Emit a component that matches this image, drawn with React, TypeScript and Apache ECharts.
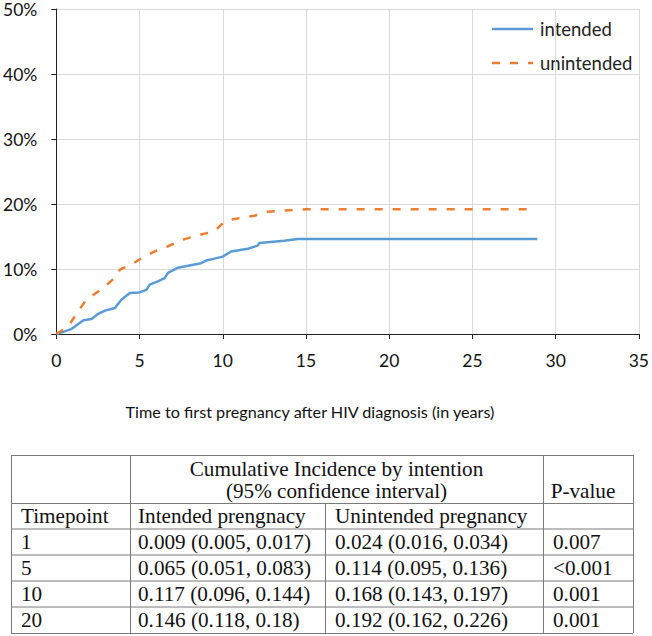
import React, { useEffect, useRef } from "react";
import * as echarts from "echarts";

// Chart data (time in years, cumulative incidence in %)
const intendedTime = [0, 0.5, 0.93, 1.3, 1.63, 2.12, 2.52, 2.92, 3.52, 3.92, 4.42, 5.0, 5.41, 5.61, 6.1, 6.51, 6.71, 7.31, 7.91, 8.7, 9.0, 9.5, 10.0, 10.5, 11.5, 12.1, 12.2, 13.7, 14.5, 28.9];
const intendedValue = [0, 0.4, 0.8, 1.5, 2.1, 2.3, 3.1, 3.6, 4.0, 5.3, 6.3, 6.4, 6.8, 7.6, 8.1, 8.6, 9.4, 10.2, 10.5, 10.9, 11.3, 11.6, 11.9, 12.7, 13.1, 13.6, 14.0, 14.35, 14.6, 14.6];
const unintendedTime = [0, 0.73, 1.23, 1.72, 2.22, 2.92, 3.62, 3.82, 4.52, 5.21, 5.91, 6.71, 7.7, 8.7, 9.5, 10.1, 10.7, 11.9, 12.7, 14.3, 15.0, 28.6];
const unintendedValue = [0, 1.2, 3.2, 5.0, 6.0, 7.3, 8.9, 9.9, 10.7, 11.8, 12.7, 13.5, 14.6, 15.3, 15.8, 17.3, 17.7, 18.2, 18.8, 19.1, 19.2, 19.2];

const seriesNames = ["intended", "unintended"];
const seriesColors = ["#5b9bd5", "#ed7d31"];
const xAxisTitle = "Time to first pregnancy after HIV diagnosis (in years)";

// Table data
const headerLine1 = "Cumulative Incidence by intention";
const headerLine2 = "(95% confidence interval)";
const pHeader = "P-value";
const subHeaders = ["Timepoint", "Intended prengnacy", "Unintended pregnancy", ""];
const timepoints = ["1", "5", "10", "20"];
const intendedCI = ["0.009 (0.005, 0.017)", "0.065 (0.051, 0.083)", "0.117 (0.096, 0.144)", "0.146 (0.118, 0.18)"];
const unintendedCI = ["0.024 (0.016, 0.034)", "0.114 (0.095, 0.136)", "0.168 (0.143, 0.197)", "0.192 (0.162, 0.226)"];
const pValues = ["0.007", "<0.001", "0.001", "0.001"];

// Layout constants
const COLX = [11, 130, 325, 543, 633];
const ROWY = [455, 503, 528.5, 554.5, 580.5, 606.5, 633];
const PAD = [10, 8, 10, 10];
const SANS = "Lato, 'Open Sans', sans-serif";
const SERIF = "'Liberation Serif', 'DejaVu Serif', serif";
const DASH = [8, 10];
const TABLE_FONT = 21.2;

function buildTable(): any[] {
  const els: any[] = [];
  const stroke = "#7a7a7a";
  const hline = (y: number, x1: number, x2: number) =>
    els.push({ type: "line", silent: true, shape: { x1, y1: y, x2, y2: y }, style: { stroke, lineWidth: 1 } });
  const vline = (x: number, y1: number, y2: number) =>
    els.push({ type: "line", silent: true, shape: { x1: x, y1, x2: x, y2 }, style: { stroke, lineWidth: 1 } });
  const L = COLX[0], R = COLX[4], T = ROWY[0], B = ROWY[ROWY.length - 1];
  ROWY.forEach((y) => hline(y + 0.5, L, R));
  vline(L + 0.5, T, B);
  vline(R + 0.5, T, B);
  vline(COLX[1] + 0.5, T, B);
  vline(COLX[2] + 0.5, ROWY[1], B);
  vline(COLX[3] + 0.5, T, B);
  const text = (t: string, x: number, y: number, align = "left", lh = TABLE_FONT) =>
    els.push({
      type: "text",
      silent: true,
      style: {
        text: t,
        x,
        y,
        fill: "#111",
        fontSize: TABLE_FONT,
        lineHeight: lh,
        fontFamily: SERIF,
        align,
        verticalAlign: "middle",
      },
    });
  const mid = (COLX[1] + COLX[3]) / 2;
  text(headerLine1, mid, 468.5, "center", 20);
  text(headerLine2, mid, 490.5, "center", 20);
  text(pHeader, 583, 490.5, "center");
  subHeaders.forEach((h, c) => {
    if (h) text(h, COLX[c] + PAD[c], (ROWY[1] + ROWY[2]) / 2);
  });
  const cols = [timepoints, intendedCI, unintendedCI, pValues];
  for (let r = 0; r < timepoints.length; r++) {
    const yc = (ROWY[r + 2] + ROWY[r + 3]) / 2;
    cols.forEach((col, c) => text(col[r], COLX[c] + PAD[c], yc));
  }
  return els;
}

function buildLegend(): any[] {
  const els: any[] = [];
  const ys = [29, 63];
  seriesNames.forEach((name, i) => {
    els.push({
      type: "line",
      silent: true,
      shape: { x1: 492, y1: ys[i], x2: 533, y2: ys[i] },
      style: { stroke: seriesColors[i], lineWidth: 2.5, lineDash: i === 1 ? DASH : null },
    });
    els.push({
      type: "text",
      silent: true,
      style: { text: name, x: 540, y: ys[i], fill: "#222", fontSize: 18.5, fontFamily: SANS, align: "left", verticalAlign: "middle" },
    });
  });
  return els;
}

export default function App() {
  const ref = useRef<HTMLDivElement>(null);
  useEffect(() => {
    if (!ref.current) return;
    const chart = echarts.init(ref.current, undefined, { renderer: "svg" });
    const intendedData = intendedTime.map((t, i) => [t, intendedValue[i]]);
    const unintendedData = unintendedTime.map((t, i) => [t, unintendedValue[i]]);
    chart.setOption({
      animation: false,
      backgroundColor: "#ffffff",
      textStyle: { fontFamily: SANS },
      grid: { left: 54, top: 9, width: 586, height: 325, containLabel: false },
      legend: { show: false },
      xAxis: {
        type: "value",
        min: 0,
        max: 35,
        interval: 5,
        axisLine: { lineStyle: { color: "#222", width: 1 } },
        axisTick: { show: true, length: 5, lineStyle: { color: "#222" } },
        axisLabel: { fontSize: 17.5, color: "#111", margin: 17, fontFamily: SANS },
        splitLine: { show: true, lineStyle: { color: "#d9d9d9", width: 1 } },
      },
      yAxis: {
        type: "value",
        min: 0,
        max: 50,
        interval: 10,
        axisLine: { show: true, lineStyle: { color: "#222", width: 1 } },
        axisTick: { show: true, length: 5, lineStyle: { color: "#222" } },
        axisLabel: { fontSize: 17.5, color: "#111", margin: 19, formatter: "{value}%", fontFamily: SANS },
        splitLine: { show: true, lineStyle: { color: "#d9d9d9", width: 1 } },
      },
      series: [
        {
          name: seriesNames[0],
          type: "line",
          data: intendedData,
          showSymbol: false,
          symbol: "none",
          lineStyle: { color: seriesColors[0], width: 2.5 },
          itemStyle: { color: seriesColors[0] },
        },
        {
          name: seriesNames[1],
          type: "line",
          data: unintendedData,
          showSymbol: false,
          symbol: "none",
          lineStyle: { color: seriesColors[1], width: 2.5, type: DASH },
          itemStyle: { color: seriesColors[1] },
        },
      ],
      graphic: [
        {
          type: "text",
          silent: true,
          style: {
            text: xAxisTitle,
            x: 310,
            y: 411,
            fill: "#111",
            fontSize: 16.2,
            fontFamily: SANS,
            align: "center",
            verticalAlign: "middle",
          },
        },
        ...buildLegend(),
        ...buildTable(),
      ],
    });
    return () => chart.dispose();
  }, []);
  return (
    <div style={{ position: "fixed", left: 0, top: 0, width: 652, height: 636, background: "#fff" }}>
      <div ref={ref} style={{ width: 652, height: 636 }} />
    </div>
  );
}
